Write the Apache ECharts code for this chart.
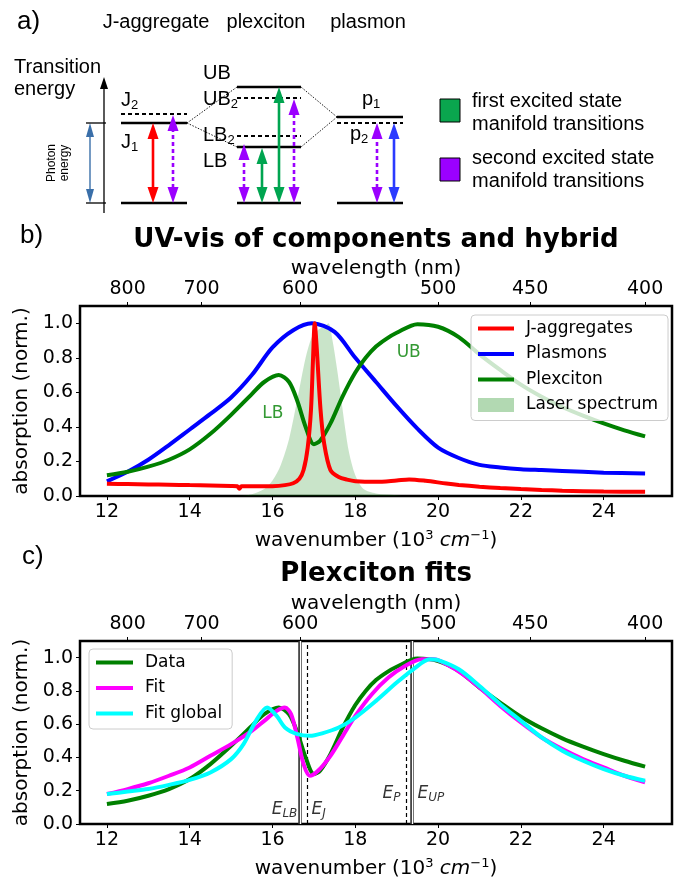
<!DOCTYPE html>
<html><head><meta charset="utf-8">
<script src="https://cdn.jsdelivr.net/npm/echarts@6/dist/echarts.min.js"></script>
<style>html,body{margin:0;padding:0;background:#fff}#c{width:683px;height:882px}</style>
</head><body><div id="c"></div><script>
// ================= DATA =================
// Panel a: energy-level diagram (energies in arbitrary units above ground)
const jLevelE    = [0, 80, 89];            // ground, J1, J2
const jLevelDash = [0, 0, 1];
const plexLevelE    = [0, 56, 67, 105, 116]; // ground, LB, LB2, UB2, UB
const plexLevelDash = [0, 0, 1, 1, 0];
const plasLevelE    = [0, 80, 86];          // ground, p2, p1
const plasLevelDash = [0, 1, 0];
const jArrowTop    = [80, 88];
const jArrowKind   = ['red', 'purple'];
const plexArrowTop = [59, 55, 116, 104];
const plexArrowKind= ['purple', 'green', 'green', 'purple'];
const plasArrowTop = [80, 80];
const plasArrowKind= ['purple', 'blue'];
const photonRange  = [0, 80];

// Panel b: UV-vis spectra (x = wavenumber, 10^3 cm^-1)
const jaggX = [12,12.5,13,13.5,14,14.5,15,15.15,15.2,15.25,15.5,16,16.3,16.5,16.65,16.75,16.85,16.93,16.98,17.02,17.07,17.16,17.25,17.4,17.6,17.8,18,18.5,19,19.3,19.7,20.2,20.5,21,21.5,22,22.5,23,24,25];
const jaggY = [0.071,0.069,0.067,0.065,0.063,0.061,0.058,0.056,0.042,0.056,0.056,0.057,0.063,0.074,0.1,0.15,0.28,0.5,0.8,1.0,0.85,0.5,0.3,0.15,0.11,0.095,0.086,0.082,0.09,0.096,0.088,0.072,0.064,0.054,0.046,0.04,0.035,0.031,0.026,0.024];
const plasX = [12,12.5,13,13.5,14,14.5,15,15.5,16,16.5,16.95,17.5,18,18.5,19,19.5,20,20.5,21,21.5,22,22.5,23,24,25];
const plasY = [0.085,0.14,0.21,0.295,0.385,0.475,0.57,0.70,0.86,0.96,1.0,0.95,0.8,0.66,0.52,0.39,0.28,0.22,0.18,0.165,0.155,0.15,0.145,0.135,0.13];
const plexX = [12,12.5,13,13.5,14,14.5,15,15.5,15.8,16.15,16.4,16.6,16.8,17.0,17.15,17.4,17.7,18.0,18.25,18.5,18.75,19.0,19.5,20.0,20.5,21.0,21.5,22.0,22.5,23.0,23.5,24.0,24.5,25.0];
const plexY = [0.12,0.14,0.17,0.21,0.27,0.36,0.47,0.59,0.66,0.70,0.66,0.55,0.40,0.30,0.32,0.42,0.58,0.715,0.80,0.865,0.91,0.945,0.995,0.98,0.92,0.82,0.73,0.645,0.575,0.515,0.465,0.42,0.38,0.345];
const laserX = [15.2,15.5,15.8,16.0,16.2,16.4,16.6,16.8,16.95,17.05,17.15,17.25,17.35,17.45,17.55,17.65,17.75,17.85,18.0,18.2,18.5,19.0,19.15];
const laserY = [0.0,0.01,0.04,0.09,0.18,0.33,0.56,0.80,0.92,0.95,0.97,0.98,1.0,0.9,0.75,0.58,0.40,0.25,0.12,0.04,0.015,0.005,0.0];
const lbLabel = [16.01, 0.48];
const ubLabel = [19.29, 0.83];

// Panel c: fits
const fitX = [12,12.5,13,13.5,14,14.5,15,15.5,15.8,16.1,16.3,16.45,16.6,16.75,16.9,17.1,17.4,17.7,18.0,18.4,18.8,19.2,19.6,19.9,20.2,20.6,21.0,21.5,22.0,22.5,23.0,23.5,24.0,24.5,25.0];
const fitY = [0.18,0.21,0.245,0.29,0.34,0.41,0.48,0.56,0.62,0.68,0.70,0.66,0.52,0.36,0.29,0.32,0.41,0.53,0.65,0.78,0.88,0.95,0.99,0.99,0.96,0.90,0.82,0.71,0.61,0.52,0.45,0.39,0.34,0.29,0.25];
const globX = [12,12.5,13,13.5,14,14.5,15,15.3,15.6,15.87,16.1,16.3,16.6,16.9,17.2,17.6,18.0,18.5,19.0,19.4,19.8,20.0,20.5,21.0,21.5,22.0,22.5,23.0,23.5,24.0,24.5,25.0];
const globY = [0.18,0.195,0.21,0.235,0.265,0.31,0.39,0.48,0.62,0.70,0.65,0.58,0.54,0.53,0.545,0.58,0.64,0.74,0.85,0.93,0.99,0.985,0.93,0.83,0.72,0.62,0.52,0.44,0.38,0.33,0.29,0.26];
const eLineNames = ['LB', 'J', 'P', 'UP'];
const eLineX     = [16.66, 16.84, 19.23, 19.37];
const eLineSolid = [1, 0, 0, 1];
const eLabelPos  = [[16.6, 0.086], [16.94, 0.086], [19.09, 0.18], [19.5, 0.18]];

// Tick labels
const wnTicks  = [12, 14, 16, 18, 20, 22, 24];
const nmTicks  = [800, 700, 600, 500, 450, 400];
const absTicks = [0, 0.2, 0.4, 0.6, 0.8, 1.0];

// ================= LAYOUT / STYLE =================
const F = 'DejaVu Sans', FA = 'Liberation Sans';
const kindColor = {red:'#ff0000', purple:'#9b00ff', green:'#00a550', blue:'#2b3bff'};
const colJ = [121, 187], colP = [237, 301], colS = [337, 403];
const jArrowX = [153, 173], plexArrowX = [244, 262, 279, 294], plasArrowX = [377, 394];
const pairs = (xs, ys) => xs.map((x, i) => [x, ys[i]]);
const nmPos = nmTicks.map(n => 1e4 / n);

const levelData = [];
jLevelE.forEach((e,i)=>levelData.push([colJ[0], colJ[1], e, jLevelDash[i]]));
plexLevelE.forEach((e,i)=>levelData.push([colP[0], colP[1], e, plexLevelDash[i]]));
plasLevelE.forEach((e,i)=>levelData.push([colS[0], colS[1], e, plasLevelDash[i]]));
const connData = [
  [colJ[1], jLevelE[1], colP[0], plexLevelE[4]],
  [colJ[1], jLevelE[1], colP[0], plexLevelE[1]],
  [colS[0], plasLevelE[2], colP[1], plexLevelE[4]],
  [colS[0], plasLevelE[2], colP[1], plexLevelE[1]]
];
const arrowData = [], arrowKinds = [];
jArrowTop.forEach((t,i)=>{arrowData.push([jArrowX[i], 0, t]); arrowKinds.push(jArrowKind[i]);});
plexArrowTop.forEach((t,i)=>{arrowData.push([plexArrowX[i], 0, t]); arrowKinds.push(plexArrowKind[i]);});
plasArrowTop.forEach((t,i)=>{arrowData.push([plasArrowX[i], 0, t]); arrowKinds.push(plasArrowKind[i]);});

function arrowGroup(a, b, color, dashed, lw, hw, hl) {
  return {type:'group', children:[
    {type:'line', shape:{x1:a[0], y1:a[1]-hl+1, x2:b[0], y2:b[1]+hl-1}, style:{stroke:color, lineWidth:lw, lineDash: dashed?[4,3]:null}},
    {type:'polygon', shape:{points:[[a[0],a[1]],[a[0]-hw/2,a[1]-hl],[a[0]+hw/2,a[1]-hl]]}, style:{fill:color}},
    {type:'polygon', shape:{points:[[b[0],b[1]],[b[0]-hw/2,b[1]+hl],[b[0]+hw/2,b[1]+hl]]}, style:{fill:color}}
  ]};
}

const subRich = {m:{fontSize:20, lineHeight:24, fontFamily:FA, fill:'#000'}, s:{fontSize:13, lineHeight:12, verticalAlign:'bottom', fontFamily:FA, fill:'#000'}};
function txt(text, x, y, size, align, extra) {
  return Object.assign({type:'text', x:x, y:y, silent:true, z:100,
    style:{text:text, fontSize:size, fontFamily:FA, fill:'#000', align:align||'left', verticalAlign:'middle'}}, extra||{});
}
function subTxt(m, s, x, y) {
  return {type:'text', x:x, y:y, silent:true, z:100, style:{text:'{m|'+m+'}{s|'+s+'}', rich:subRich, align:'left', verticalAlign:'middle'}};
}

const graphic = [
  txt('a)', 17, 22, 26),
  txt('J-aggregate', 156, 22, 20, 'center'),
  txt('plexciton', 266, 22, 20, 'center'),
  txt('plasmon', 368, 22, 20, 'center'),
  txt('Transition', 14, 67, 20),
  txt('energy', 14, 89, 20),
  {type:'text', x:58, y:163, rotation:Math.PI/2, silent:true, z:100, style:{text:'Photon\nenergy', fontSize:12, lineHeight:13, fontFamily:FA, fill:'#000', align:'center', verticalAlign:'middle'}},
  subTxt('J','2',121,100), subTxt('J','1',121,142),
  txt('UB', 203, 73, 20),
  subTxt('UB','2',203,99), subTxt('LB','2',203,135),
  txt('LB', 203, 161, 20),
  subTxt('p','1',362,99), subTxt('p','2',350,134),
  {type:'rect', shape:{x:440, y:99, width:20, height:23}, style:{fill:'#0aa64e', stroke:'#000', lineWidth:1}, z:100},
  {type:'rect', shape:{x:440, y:158, width:20, height:23}, style:{fill:'#9b00ff', stroke:'#000', lineWidth:1}, z:100},
  txt('first excited state', 472, 101, 20),
  txt('manifold transitions', 472, 124, 20),
  txt('second excited state', 472, 158, 20),
  txt('manifold transitions', 472, 181, 20),
  txt('b)', 20, 236, 26),
  txt('c)', 22, 557, 26),
  {type:'text', x:376, y:240, silent:true, z:100, style:{text:'UV-vis of components and hybrid', fontSize:26, fontWeight:'bold', fontFamily:F, fill:'#000', align:'center', verticalAlign:'middle'}},
  {type:'text', x:376, y:574, silent:true, z:100, style:{text:'Plexciton fits', fontSize:26, fontWeight:'bold', fontFamily:F, fill:'#000', align:'center', verticalAlign:'middle'}}
];

// ================= AXES =================
const wnName = 'wavenumber (10{sup|3} {it|cm}{sup|−1})';
const nameRich = {sup:{fontSize:13, lineHeight:14, verticalAlign:'top', fontFamily:F, color:'#000'},
                  it:{fontSize:20, fontStyle:'italic', fontFamily:F, color:'#000', lineHeight:24}};
function bottomAxis(gi){ return {type:'value', gridIndex:gi, position:'bottom', min:11.35, max:25.65,
  name:wnName, nameLocation:'middle', nameGap:33, nameTextStyle:{fontSize:20, fontFamily:F, color:'#000', lineHeight:24, rich:nameRich},
  axisLine:{show:false}, splitLine:{show:false},
  axisTick:{show:true, length:4, lineStyle:{color:'#000', width:1}, customValues:wnTicks},
  axisLabel:{customValues:wnTicks, fontSize:19, fontFamily:F, color:'#000', margin:7}}; }
function topAxis(gi){ return {type:'value', gridIndex:gi, position:'top', min:11.35, max:25.65,
  name:'wavelength (nm)', nameLocation:'middle', nameGap:26, nameTextStyle:{fontSize:20, fontFamily:F, color:'#000'},
  axisLine:{show:false}, splitLine:{show:false},
  axisTick:{show:true, length:4, lineStyle:{color:'#000', width:1}, customValues:nmPos},
  axisLabel:{customValues:nmPos, formatter:v=>String(Math.round(1e4/v)), fontSize:19, fontFamily:F, color:'#000', margin:7}}; }
function yAxisAbs(gi){ return {type:'value', gridIndex:gi, min:0, max:1.1,
  name:'absorption (norm.)', nameLocation:'middle', nameGap:41, nameRotate:90, nameTextStyle:{fontSize:20, fontFamily:F, color:'#000'},
  axisLine:{show:false}, splitLine:{show:false},
  axisTick:{show:true, length:4, lineStyle:{color:'#000', width:1}, customValues:absTicks},
  axisLabel:{customValues:absTicks, formatter:v=>v.toFixed(1), fontSize:19, fontFamily:F, color:'#000', margin:7}}; }

function lineSeries(name, xs, ys, color, xi, yi, z){ return {name:name, type:'line', xAxisIndex:xi, yAxisIndex:yi,
  data:pairs(xs, ys), symbol:'none', smooth:0.3, color:color, lineStyle:{width:4, color:color}, z:z||3, silent:true}; }

const eLabelRich = {e:{fontSize:17, fontStyle:'italic', fontFamily:F, color:'#000', lineHeight:20},
                    s:{fontSize:12, fontStyle:'italic', fontFamily:F, color:'#000', lineHeight:12, verticalAlign:'bottom'}};
const eMarkData = [];
eLineX.forEach((x,i)=>{
  if (eLineSolid[i]) {
    eMarkData.push({xAxis:x, lineStyle:{color:'#333', width:3.5, type:'solid'}});
    eMarkData.push({xAxis:x, lineStyle:{color:'#fff', width:1.2, type:'solid'}});
  } else {
    eMarkData.push({xAxis:x, lineStyle:{color:'#000', width:1.2, type:[4,3]}});
  }
});

const noSym = {color:'rgba(0,0,0,0)', borderColor:'rgba(0,0,0,0)', borderWidth:0};
const thick = {width:4};
const legendText = {fontSize:17, fontFamily:F, color:'#000', lineHeight:17, padding:[0,0,0,7]};

const option = {
  animation:false,
  graphic: graphic,
  grid:[
    {left:0, top:0, width:683, height:215, show:false},
    {left:80, top:306, width:592, height:190, show:true, borderColor:'#000', borderWidth:2.5},
    {left:80, top:641, width:592, height:191, show:true, borderColor:'#000', borderWidth:2.5}
  ],
  xAxis:[
    {type:'value', gridIndex:0, min:0, max:683, show:false},
    bottomAxis(1), topAxis(1), bottomAxis(2), topAxis(2)
  ],
  yAxis:[
    {type:'value', gridIndex:0, min:-12, max:203, show:false},
    yAxisAbs(1), yAxisAbs(2)
  ],
  legend:[
    {left:471, top:315, orient:'vertical', selectedMode:false,
     data:[{name:'J-aggregates', itemStyle:noSym, lineStyle:thick},{name:'Plasmons', itemStyle:noSym, lineStyle:thick},{name:'Plexciton', itemStyle:noSym, lineStyle:thick},{name:'Laser spectrum', icon:'rect'}],
     itemWidth:36, itemHeight:14, itemGap:8.5, padding:[5,10,7,5],
     backgroundColor:'rgba(255,255,255,0.8)', borderColor:'#ccc', borderWidth:1, borderRadius:4,
     textStyle:legendText},
    {left:89, top:649, orient:'vertical', selectedMode:false,
     data:[{name:'Data', itemStyle:noSym, lineStyle:thick},{name:'Fit', itemStyle:noSym, lineStyle:thick},{name:'Fit global', itemStyle:noSym, lineStyle:thick}],
     itemWidth:37, itemHeight:14, itemGap:8.5, padding:[5,10,7,5],
     backgroundColor:'rgba(255,255,255,0.8)', borderColor:'#ccc', borderWidth:1, borderRadius:4,
     textStyle:legendText}
  ],
  series:[
    // ---- panel a ----
    {type:'custom', xAxisIndex:0, yAxisIndex:0, data:levelData, silent:true, clip:false,
     renderItem:(p, api)=>{ const a=api.coord([api.value(0), api.value(2)]), b=api.coord([api.value(1), api.value(2)]); const d=api.value(3)===1;
       return {type:'line', shape:{x1:a[0], y1:a[1], x2:b[0], y2:b[1]}, style:{stroke:'#000', lineWidth:d?2:2.6, lineDash:d?[4,3]:null}}; }},
    {type:'custom', xAxisIndex:0, yAxisIndex:0, data:connData, silent:true, clip:false,
     renderItem:(p, api)=>{ const a=api.coord([api.value(0), api.value(1)]), b=api.coord([api.value(2), api.value(3)]);
       return {type:'line', shape:{x1:a[0], y1:a[1], x2:b[0], y2:b[1]}, style:{stroke:'#000', lineWidth:0.9, lineDash:[1.5,1.5]}}; }},
    {type:'custom', xAxisIndex:0, yAxisIndex:0, data:arrowData, silent:true, clip:false,
     renderItem:(p, api)=>{ const k=arrowKinds[p.dataIndex];
       const a=api.coord([api.value(0), api.value(1)]), b=api.coord([api.value(0), api.value(2)]);
       return arrowGroup(a, b, kindColor[k], k==='purple', 2.6, 11, 16); }},
    {type:'custom', xAxisIndex:0, yAxisIndex:0, data:[[90, photonRange[0], photonRange[1]]], silent:true, clip:false,
     renderItem:(p, api)=>{ const a=api.coord([api.value(0), api.value(1)]), b=api.coord([api.value(0), api.value(2)]);
       const g = arrowGroup(a, b, '#3a6fa9', false, 1.4, 8, 14);
       const ax0=api.coord([104,-10]), ax1=api.coord([104,126]);
       const t0a=api.coord([86,photonRange[0]]), t0b=api.coord([106,photonRange[0]]);
       const t1a=api.coord([86,photonRange[1]]), t1b=api.coord([106,photonRange[1]]);
       g.children.push({type:'line', shape:{x1:ax0[0], y1:ax0[1], x2:ax1[0], y2:ax1[1]+10}, style:{stroke:'#000', lineWidth:1.3}});
       g.children.push({type:'polygon', shape:{points:[[ax1[0],ax1[1]],[ax1[0]-4,ax1[1]+12],[ax1[0]+4,ax1[1]+12]]}, style:{fill:'#000'}});
       g.children.push({type:'line', shape:{x1:t0a[0], y1:t0a[1], x2:t0b[0], y2:t0b[1]}, style:{stroke:'#000', lineWidth:1.3}});
       g.children.push({type:'line', shape:{x1:t1a[0], y1:t1a[1], x2:t1b[0], y2:t1b[1]}, style:{stroke:'#000', lineWidth:1.3}});
       return g; }},
    // ---- panel b ----
    {name:'Laser spectrum', type:'line', xAxisIndex:1, yAxisIndex:1, data:pairs(laserX, laserY), symbol:'none', smooth:0.3,
     color:'rgba(0,128,0,0.3)', lineStyle:{width:0}, areaStyle:{color:'rgba(0,128,0,0.3)'}, z:1, silent:true},
    lineSeries('Plasmons', plasX, plasY, '#0000ff', 1, 1, 2),
    lineSeries('Plexciton', plexX, plexY, '#008000', 1, 1, 3),
    lineSeries('J-aggregates', jaggX, jaggY, '#ff0000', 1, 1, 4),
    {type:'scatter', xAxisIndex:1, yAxisIndex:1, symbolSize:1, itemStyle:{color:'rgba(0,0,0,0)'}, silent:true, z:6,
     data:[{value:lbLabel, label:{formatter:'LB'}}, {value:ubLabel, label:{formatter:'UB'}}],
     label:{show:true, position:'inside', fontSize:17, fontFamily:F, color:'#008000'}},
    // ---- panel c ----
    Object.assign(lineSeries('Data', plexX, plexY, '#008000', 3, 2, 3), {
      markLine:{silent:true, symbol:['none','none'], label:{show:false}, data:eMarkData, z:2}}),
    lineSeries('Fit', fitX, fitY, '#ff00ff', 3, 2, 4),
    lineSeries('Fit global', globX, globY, '#00ffff', 3, 2, 5),
    {type:'scatter', xAxisIndex:3, yAxisIndex:2, symbolSize:1, itemStyle:{color:'rgba(0,0,0,0)'}, silent:true, z:6,
     data: eLabelPos.map((p,i)=>({value:p, label:{formatter:'{e|E}{s|'+eLineNames[i]+'}', align:(i%2===0)?'right':'left'}})),
     label:{show:true, position:'inside', rich:eLabelRich}}
  ]
};
const chart = echarts.init(document.getElementById('c'));
chart.setOption(option);
</script></body></html>
